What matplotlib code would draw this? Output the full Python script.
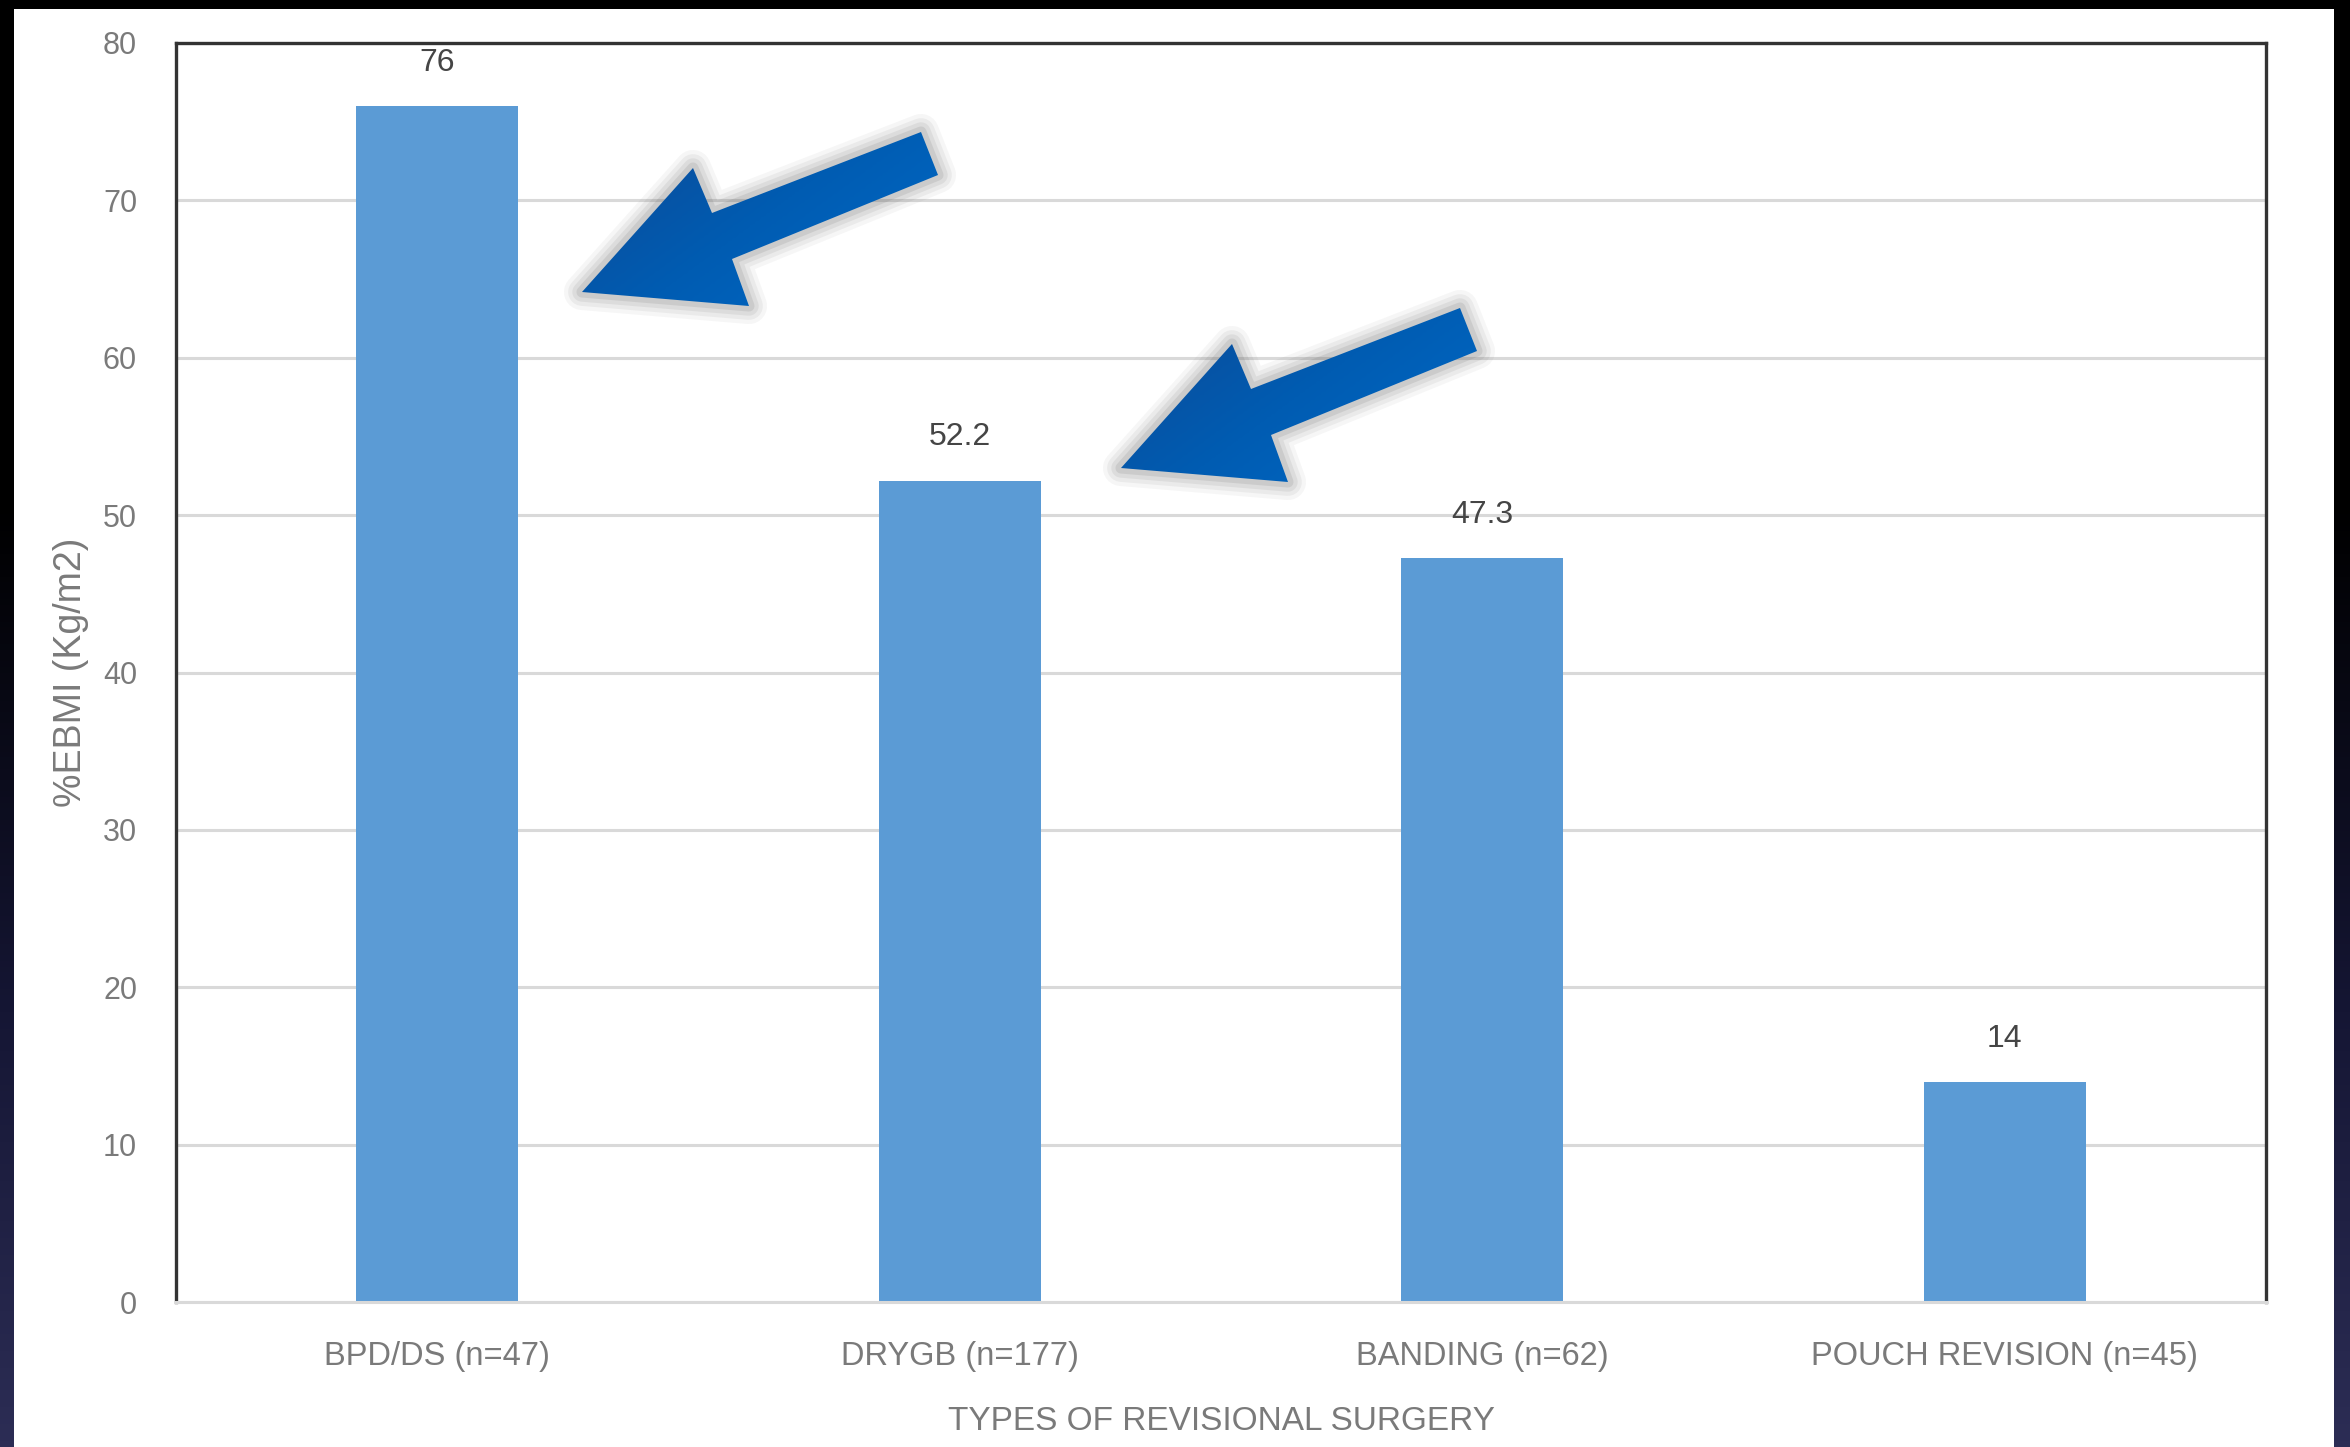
import numpy as np
import matplotlib
matplotlib.use("Agg")
import matplotlib.pyplot as plt
from matplotlib.patches import Polygon, Rectangle
from matplotlib.colors import LinearSegmentedColormap

# data
categories = ["BPD/DS (n=47)", "DRYGB (n=177)", "BANDING (n=62)", "POUCH REVISION (n=45)"]
ebmi = [76, 52.2, 47.3, 14]
yticks = [0, 10, 20, 30, 40, 50, 60, 70, 80]

FONT = ["Liberation Sans", "DejaVu Sans"]
GREY = "#7a7a7a"

W, H = 2350, 1447
fig = plt.figure(figsize=(W / 100, H / 100), dpi=100)
fig.patch.set_facecolor("black")

# slide background: dark strips with navy fade toward the bottom, white page
bg = fig.add_axes([0, 0, 1, 1], zorder=0)
bg.set_xlim(0, W)
bg.set_ylim(H, 0)
bg.axis("off")
fade = LinearSegmentedColormap.from_list(
    "fade", [(0, "#000000"), (0.35, "#000000"), (0.7, "#151634"), (1, "#2c2d55")])
bg.imshow(np.linspace(0, 1, 256).reshape(-1, 1), cmap=fade, aspect="auto",
          extent=[0, W, H, 0], zorder=0)
bg.add_patch(Rectangle((14, 9), 2320, H - 9, facecolor="white", edgecolor="none", zorder=1))

# chart
ax = fig.add_axes([176 / W, 145 / H, 2090 / W, 1259 / H], zorder=1)
ax.set_facecolor("white")
x = np.arange(len(categories))
ax.bar(x, ebmi, width=0.31, color="#5b9bd5", zorder=2)
for i, v in enumerate(ebmi):
    ax.annotate(f"{v:g}", (i, v), xytext=(0, 31), textcoords="offset points",
                ha="center", va="center", fontsize=23, color="#454545", family=FONT)

ax.set_xlim(-0.5, len(categories) - 0.5)
ax.set_ylim(0, 80)
ax.set_yticks(yticks)
ax.set_xticks(x)
ax.set_xticklabels(categories, fontsize=23.5, color=GREY, family=FONT)
for lbl in ax.get_yticklabels():
    lbl.set_fontsize(22)
    lbl.set_color(GREY)
    lbl.set_family(FONT)
ax.tick_params(axis="y", length=0, pad=28)
ax.tick_params(axis="x", length=0, pad=28)

ax.yaxis.grid(True, color="#d9d9d9", lw=2.2)
ax.set_axisbelow(True)
for side in ["left", "top", "right"]:
    ax.spines[side].set_color("#333333")
    ax.spines[side].set_linewidth(2.4)
ax.spines["bottom"].set_color("#d9d9d9")
ax.spines["bottom"].set_linewidth(2.2)

ax.set_ylabel("%EBMI (Kg/m2)", fontsize=27, color=GREY, family=FONT)
ax.yaxis.set_label_coords(-0.0416, 0.5)
ax.set_xlabel("TYPES OF REVISIONAL SURGERY", fontsize=24, color=GREY, family=FONT)
ax.xaxis.set_label_coords(0.5, -0.083)

# callout arrows drawn on a pixel-space overlay
ov = fig.add_axes([0, 0, 1, 1], zorder=3)
ov.set_xlim(0, W)
ov.set_ylim(H, 0)
ov.axis("off")
ov.patch.set_alpha(0)

arrow_shape = np.array([(0, 0), (111, -124), (130, -79), (339, -160),
                        (356, -117), (150, -33), (167, 14)])
arrow_tips = [(582, 292), (1121, 468)]
blue = LinearSegmentedColormap.from_list("blue", ["#0e4a96", "#005cb2", "#006ac8"])

for tx, ty in arrow_tips:
    pts = arrow_shape + np.array([tx, ty])
    # soft grey halo
    for lw, a in [(26, 0.05), (20, 0.07), (14, 0.09), (8, 0.12)]:
        ov.add_patch(Polygon(pts, closed=True, facecolor="none", edgecolor="#555555",
                             lw=lw, alpha=a, joinstyle="round", zorder=4))
    shape = Polygon(pts, closed=True, facecolor="none", edgecolor="none", zorder=5)
    ov.add_patch(shape)
    gx, gy = np.meshgrid(np.linspace(0, 1, 64), np.linspace(0, 1, 64))
    grad = 0.6 * gx + 0.4 * gy
    img = ov.imshow(grad, cmap=blue, aspect="auto", zorder=5,
                    extent=[pts[:, 0].min(), pts[:, 0].max(), pts[:, 1].max(), pts[:, 1].min()])
    img.set_clip_path(shape)

fig.savefig("out.png", dpi=100, facecolor=fig.get_facecolor())
